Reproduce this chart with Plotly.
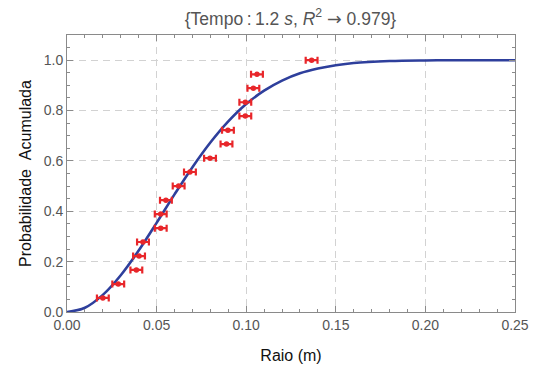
import plotly.graph_objects as go

# Measured points (radius, cumulative probability) with horizontal error
raio = [0.0200, 0.0286, 0.0387, 0.0402, 0.0424, 0.0523, 0.0523, 0.0552, 0.0623,
        0.0686, 0.0798, 0.0890, 0.0898, 0.0995, 0.0995, 0.1040, 0.1060, 0.1365]
prob = [0.056, 0.111, 0.167, 0.222, 0.278, 0.333, 0.389, 0.444, 0.500,
        0.556, 0.611, 0.667, 0.722, 0.778, 0.833, 0.889, 0.944, 1.000]
erro_x = [0.0033] * len(raio)

# Fitted curve
curva_x = [0.00, 0.01, 0.02, 0.03, 0.04, 0.05, 0.06, 0.07, 0.08, 0.09, 0.10,
           0.11, 0.12, 0.13, 0.14, 0.15, 0.16, 0.18, 0.20, 0.22, 0.25]
curva_y = [0.000, 0.017, 0.068, 0.146, 0.244, 0.354, 0.467, 0.575, 0.673, 0.757, 0.826,
           0.879, 0.919, 0.948, 0.967, 0.980, 0.989, 0.9965, 0.999, 0.9998, 1.000]

x_ticks = [0.00, 0.05, 0.10, 0.15, 0.20, 0.25]
x_labels = ["0.00", "0.05", "0.10", "0.15", "0.20", "0.25"]
y_ticks = [0.0, 0.2, 0.4, 0.6, 0.8, 1.0]
y_labels = ["0.0", "0.2", "0.4", "0.6", "0.8", "1.0"]

FONT = "Liberation Sans, Arial, sans-serif"

fig = go.Figure()
fig.add_trace(go.Scatter(
    x=curva_x, y=curva_y, mode="lines",
    line=dict(color="#2e3f9c", width=2.6, shape="spline", smoothing=1.0),
    hoverinfo="skip", showlegend=False))
fig.add_trace(go.Scatter(
    x=raio, y=prob, mode="markers",
    marker=dict(color="#e8262a", size=5.5),
    error_x=dict(type="data", array=erro_x, color="#e8262a", thickness=2.2, width=3.5),
    showlegend=False))

axis_common = dict(
    showline=True, linecolor="#8a8a8a", linewidth=1, mirror="allticks",
    ticks="inside", ticklen=6, tickcolor="#8a8a8a", tickwidth=1,
    showgrid=True, gridcolor="#d2d2d2", griddash="7px,5px", gridwidth=1.2,
    zeroline=False, automargin=False,
    tickfont=dict(family=FONT, size=14, color="#555555"),
)

fig.update_xaxes(
    range=[0, 0.25], tickvals=x_ticks, ticktext=x_labels,
    minor=dict(dtick=0.01, ticks="inside", ticklen=3, tickcolor="#8a8a8a", showgrid=False),
    title=dict(text="Raio (m)", font=dict(family=FONT, size=16, color="#111111"), standoff=18),
    **axis_common)
fig.update_yaxes(
    range=[0, 1.1], tickvals=y_ticks, ticktext=y_labels,
    minor=dict(dtick=0.05, ticks="inside", ticklen=3, tickcolor="#8a8a8a", showgrid=False),
    title=dict(text="Probabilidade\u00a0\u00a0Acumulada", font=dict(family=FONT, size=16, color="#111111"), standoff=8),
    **axis_common)

fig.update_layout(
    width=533, height=369,
    margin=dict(l=67, r=18, t=35, b=57),
    paper_bgcolor="white", plot_bgcolor="white",
    title=dict(
        text="{Tempo\u2009:\u20091.2 <i>s</i>, <i>R</i><sup>2</sup> "
             "<span style=\"font-family:DejaVu Sans\">\u2192</span> 0.979}",
        x=0.545, xanchor="center", y=0.95, yanchor="middle",
        font=dict(family=FONT, size=17.5, color="#555555")),
)

fig.write_html("out.html", config={"displayModeBar": False},
               post_script="document.body.style.margin='0';")
